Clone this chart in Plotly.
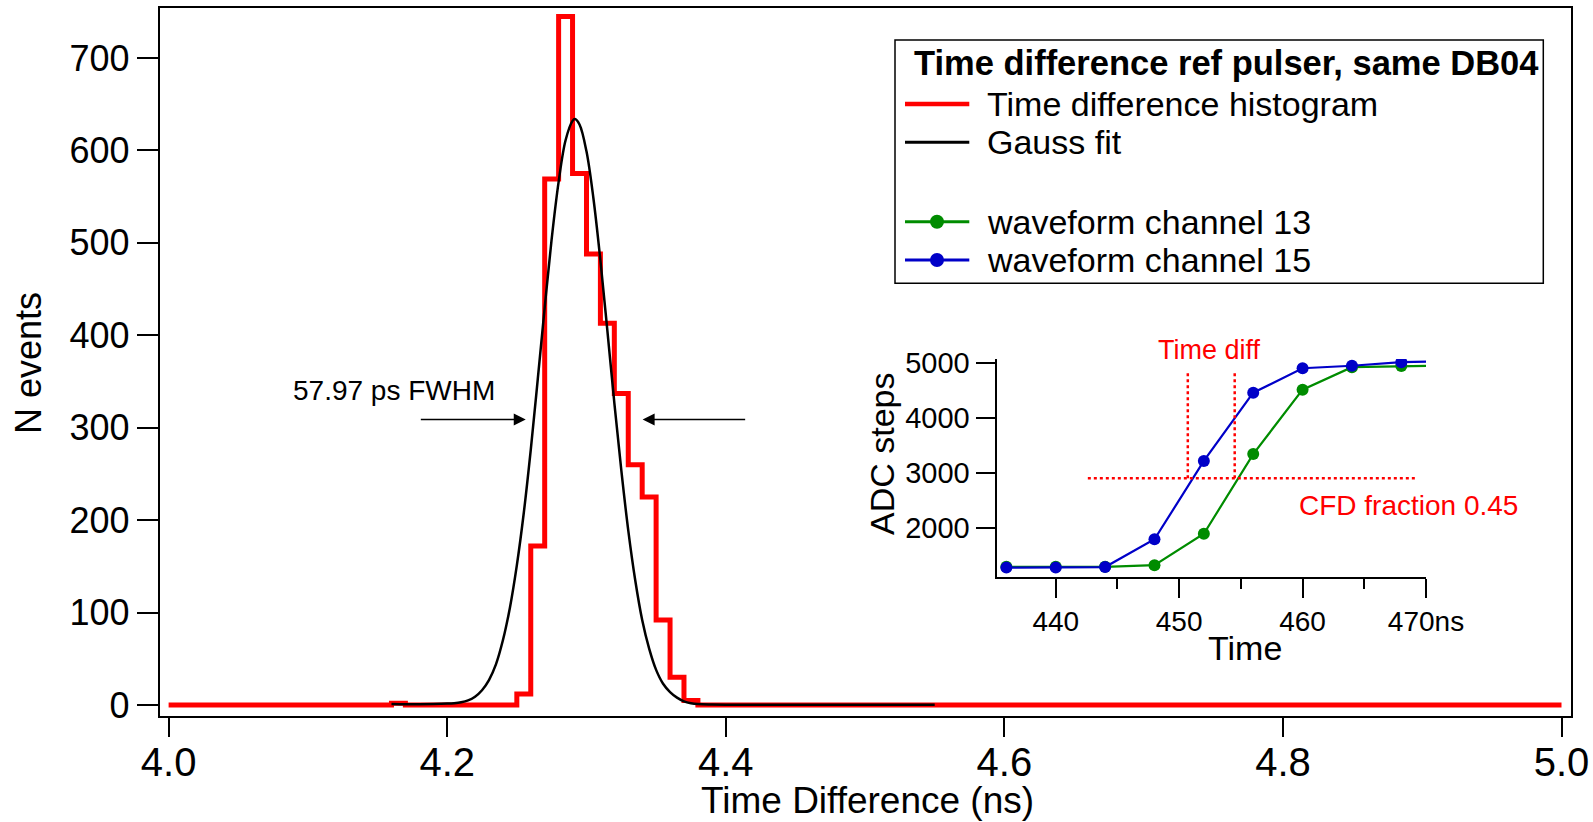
import plotly.graph_objects as go

W, H = 1593, 822
FONT = "Liberation Sans, Arial, sans-serif"

# ---------------- data ----------------
# time-difference histogram: left bin edges (ns) and counts (last point closes the line at 5.0 ns)
hist_edges = [4.00, 4.16, 4.17, 4.25, 4.26, 4.27, 4.28, 4.29, 4.30, 4.31, 4.32,
              4.33, 4.34, 4.35, 4.36, 4.37, 4.38, 5.00]
hist_counts = [0, 2, 0, 12, 172, 569, 745, 575, 488, 413, 337,
               260, 225, 92, 30, 5, 0, 0]

# Gauss fit curve
gauss_t = [4.160, 4.170, 4.180, 4.190, 4.200, 4.205, 4.210, 4.215, 4.220, 4.225,
           4.230, 4.235, 4.240, 4.245, 4.250, 4.255, 4.260, 4.265, 4.270, 4.275,
           4.280, 4.285, 4.290, 4.2917, 4.295, 4.300, 4.305, 4.310, 4.315, 4.320,
           4.325, 4.330, 4.335, 4.340, 4.345, 4.350, 4.355, 4.360, 4.365, 4.370,
           4.375, 4.380, 4.390, 4.400, 4.450, 4.550]
gauss_n = [1.0, 0.8, 0.8, 1.0, 1.5, 2, 3, 5, 9, 16,
           27, 44, 70, 105, 151, 208, 276, 352, 430, 504,
           566, 611, 632, 634, 628, 599, 548, 481, 405, 327,
           254, 189, 135, 92, 61, 38, 23, 14, 8, 4,
           2, 1, 0.5, 0.3, 0.2, 0.2]

# FWHM marker arrows
fwhm_label = "57.97 ps FWHM"
fwhm_level = 309
fwhm_heads = [4.2564, 4.3403]
fwhm_tails = [4.180, 4.415]
fwhm_label_pos = (4.162, 340)

# inset: waveforms
wf_time = [436, 440, 444, 448, 452, 456, 460, 464, 468, 472]
wf_ch13 = [1300, 1300, 1300, 1330, 1900, 3350, 4520, 4930, 4950, 4960]
wf_ch15 = [1285, 1285, 1295, 1800, 3225, 4465, 4910, 4955, 5020, 5040]

cfd_level = 2910
cfd_span = [442.6, 469.2]
cross_times = [450.7, 454.5]
cross_top = 4850

main_xticks = [4.0, 4.2, 4.4, 4.6, 4.8, 5.0]
main_xlabels = ["4.0", "4.2", "4.4", "4.6", "4.8", "5.0"]
main_yticks = [0, 100, 200, 300, 400, 500, 600, 700]
inset_xticks = [440, 450, 460, 470]
inset_xlabels = ["440", "450", "460", "470ns"]
inset_xminor = [445, 455, 465]
inset_yticks = [2000, 3000, 4000, 5000]

legend_title = "Time difference ref pulser, same DB04"
legend_names = ["Time difference histogram", "Gauss fit", "waveform channel 13", "waveform channel 15"]

RED = "#FF0000"
GREEN = "#008C00"
BLUE = "#0000C8"

fig = go.Figure()

# main histogram
fig.add_trace(go.Scatter(x=hist_edges, y=hist_counts, mode="lines", line_shape="hv",
                         line=dict(color=RED, width=5), name=legend_names[0],
                         showlegend=False, xaxis="x", yaxis="y"))
# gauss fit
fig.add_trace(go.Scatter(x=gauss_t, y=gauss_n, mode="lines", line_shape="spline",
                         line=dict(color="black", width=2.5), name=legend_names[1],
                         showlegend=False, xaxis="x", yaxis="y"))

# inset waveforms
fig.add_trace(go.Scatter(x=wf_time, y=wf_ch13, mode="lines+markers",
                         line=dict(color=GREEN, width=2.2), marker=dict(color=GREEN, size=12),
                         name=legend_names[2], showlegend=False, xaxis="x2", yaxis="y2"))
fig.add_trace(go.Scatter(x=wf_time, y=wf_ch15, mode="lines+markers",
                         line=dict(color=BLUE, width=2.2), marker=dict(color=BLUE, size=12),
                         name=legend_names[3], showlegend=False, xaxis="x2", yaxis="y2"))
# CFD threshold and crossing markers
fig.add_trace(go.Scatter(x=cfd_span, y=[cfd_level, cfd_level], mode="lines",
                         line=dict(color=RED, width=2.5, dash="dot"), showlegend=False,
                         xaxis="x2", yaxis="y2", hoverinfo="skip"))
for ct in cross_times:
    fig.add_trace(go.Scatter(x=[ct, ct], y=[cfd_level, cross_top], mode="lines",
                             line=dict(color=RED, width=2.5, dash="dot"), showlegend=False,
                             xaxis="x2", yaxis="y2", hoverinfo="skip"))

axis_common = dict(showgrid=False, zeroline=False, showline=True, linecolor="black",
                   ticks="outside", tickcolor="black", tickwidth=2, automargin=False)

fig.update_layout(
    width=W, height=H,
    margin=dict(l=0, r=0, t=0, b=0, autoexpand=False),
    paper_bgcolor="white", plot_bgcolor="white",
    showlegend=False,
    font=dict(family=FONT, color="black"),
    xaxis=dict(**axis_common, domain=[0.10013, 0.98600], range=[3.99347, 5.0066],
               tickvals=main_xticks, ticktext=main_xlabels, ticklen=19, linewidth=1.5,
               mirror=True, anchor="y", ticklabelstandoff=-9,
               tickfont=dict(size=40, family=FONT, color="black")),
    yaxis=dict(**axis_common, domain=[0.12895, 0.99027], range=[-11.9, 754.1],
               tickvals=main_yticks, ticklen=21, linewidth=1.5, mirror=True, anchor="x",
               tickfont=dict(size=36, family=FONT, color="black")),
    xaxis2=dict(**axis_common, domain=[0.62555, 0.89517], range=[435.2, 470],
                tickvals=inset_xticks, ticktext=inset_xlabels, ticklen=19, linewidth=2,
                minor=dict(tickvals=inset_xminor, ticks="outside", ticklen=10,
                           tickwidth=2, tickcolor="black"),
                anchor="y2", tickfont=dict(size=28, family=FONT, color="black")),
    yaxis2=dict(**axis_common, domain=[0.29842, 0.56338], range=[1120, 5080],
                tickvals=inset_yticks, ticklen=19, linewidth=2, anchor="x2",
                tickfont=dict(size=29, family=FONT, color="black")),
)

ann = []
# axis titles
ann.append(dict(text="N events", x=28 / W, y=1 - 363 / H, xref="paper", yref="paper",
                textangle=-90, showarrow=False, font=dict(size=36), xanchor="center", yanchor="middle"))
ann.append(dict(text="Time Difference (ns)", x=867 / W, y=0, xref="paper", yref="paper",
                showarrow=False, font=dict(size=37), xanchor="center", yanchor="bottom",
                borderpad=0))
ann.append(dict(text="ADC steps", x=882 / W, y=1 - 454 / H, xref="paper", yref="paper",
                textangle=-90, showarrow=False, font=dict(size=34), xanchor="center", yanchor="middle"))
ann.append(dict(text="Time", x=1245 / W, y=1 - 648 / H, xref="paper", yref="paper",
                showarrow=False, font=dict(size=34), xanchor="center", yanchor="middle"))
# FWHM
ann.append(dict(text=fwhm_label, x=fwhm_label_pos[0], y=fwhm_label_pos[1], xref="x", yref="y",
                showarrow=False, font=dict(size=28), xanchor="center", yanchor="middle"))
for hx, tx in zip(fwhm_heads, fwhm_tails):
    ann.append(dict(text="", x=hx, y=fwhm_level, ax=tx, ay=fwhm_level, xref="x", yref="y",
                    axref="x", ayref="y", showarrow=True, arrowhead=2, arrowsize=1.6,
                    arrowwidth=1.5, arrowcolor="black"))
# inset labels
ann.append(dict(text="Time diff", x=1209 / W, y=1 - 350 / H, xref="paper", yref="paper",
                showarrow=False, font=dict(size=27, color=RED), xanchor="center", yanchor="middle"))
ann.append(dict(text="CFD fraction 0.45", x=1297 / W, y=1 - 505 / H, xref="paper", yref="paper",
                showarrow=False, font=dict(size=28, color=RED), xanchor="left", yanchor="middle"))

# legend (drawn)
shapes = []
shapes.append(dict(type="rect", xref="paper", yref="paper", x0=895 / W, x1=1543.3 / W,
                   y0=1 - 283.3 / H, y1=1 - 40 / H, line=dict(color="black", width=1.5),
                   fillcolor="white", layer="below"))
ann.append(dict(text="<b>" + legend_title + "</b>", x=911.7 / W, y=1 - 63.3 / H, xref="paper",
                yref="paper", showarrow=False, font=dict(size=34.5), xanchor="left", yanchor="middle"))
row_y = [104, 142.3, 221.7, 260]
row_col = [RED, "black", GREEN, BLUE]
row_w = [4.5, 3, 3, 3]
for i in range(4):
    yy = 1 - row_y[i] / H
    shapes.append(dict(type="line", xref="paper", yref="paper", x0=905 / W, x1=969.3 / W,
                       y0=yy, y1=yy, line=dict(color=row_col[i], width=row_w[i])))
    if i >= 2:
        shapes.append(dict(type="circle", xref="paper", yref="paper", xsizemode="pixel",
                           ysizemode="pixel", xanchor=937 / W, yanchor=yy, x0=-7, x1=7, y0=-7, y1=7,
                           fillcolor=row_col[i], line=dict(color=row_col[i], width=0)))
    ann.append(dict(text=legend_names[i], x=985 / W, y=yy, xref="paper", yref="paper",
                    showarrow=False, font=dict(size=34), xanchor="left", yanchor="middle"))

fig.update_layout(annotations=ann, shapes=shapes)
fig.write_html("out.html", config={"displayModeBar": False},
               post_script="document.body.style.margin='0';document.body.style.overflow='hidden';")
